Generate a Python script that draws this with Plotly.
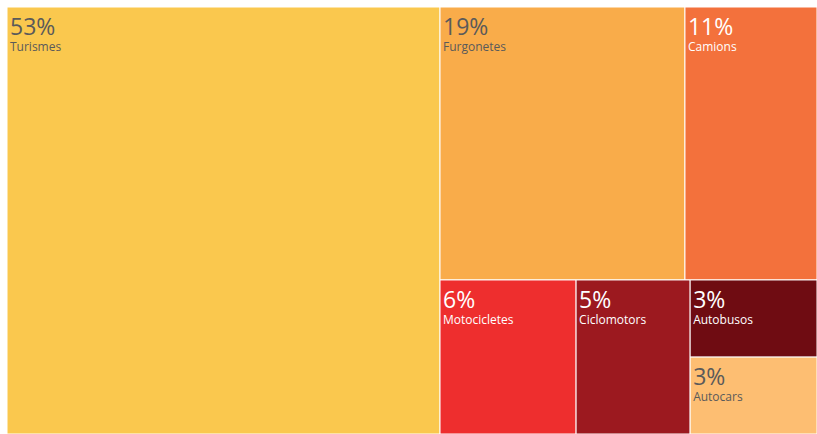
import plotly.graph_objects as go

labels = ["Turismes", "Furgonetes", "Camions", "Motocicletes", "Ciclomotors", "Autobusos", "Autocars"]
values = [53.46, 19.33, 10.42, 6.06, 5.08, 2.83, 2.82]
pct_text = ["53%", "19%", "11%", "6%", "5%", "3%", "3%"]
colors = ["#FAC84E", "#F9AC4A", "#F3713C", "#EE2E2E", "#9C191F", "#6F0C12", "#FDBE72"]
text_colors = ["#5A5A5A", "#5A5A5A", "#FFFFFF", "#FFFFFF", "#FFFFFF", "#FFFFFF", "#5A5A5A"]

fig = go.Figure(go.Treemap(
    labels=labels,
    parents=[""] * len(labels),
    values=values,
    text=pct_text,
    texttemplate="<span style='font-size:23px'>%{text}</span><br>%{label}",
    textposition="top left",
    textfont=dict(family="Open Sans", size=12, color=text_colors),
    marker=dict(colors=colors, line=dict(color="white", width=1),
                pad=dict(t=0, l=0, r=0, b=0)),
    tiling=dict(pad=0),
    pathbar=dict(visible=False),
    hoverinfo="label+text",
    sort=True,
))

fig.update_layout(
    width=817, height=434,
    margin=dict(l=7, t=7, r=0, b=0),
    paper_bgcolor="white",
    font=dict(family="Open Sans"),
)

fig.write_html(
    "out.html",
    config={"displayModeBar": False},
    post_script="document.body.style.margin='0';document.body.style.overflow='hidden';",
)
